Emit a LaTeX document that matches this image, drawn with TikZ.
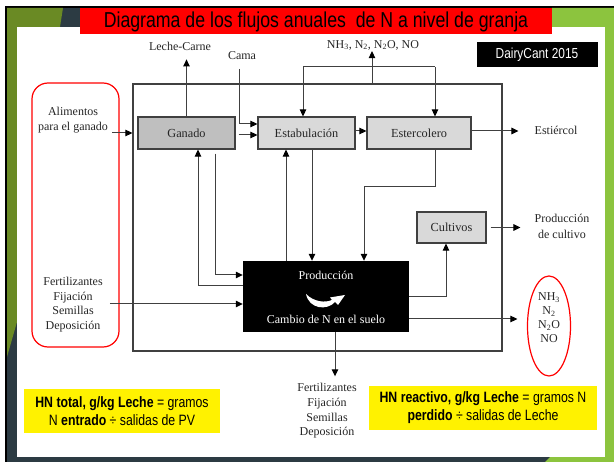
\documentclass[tikz,border=0pt]{standalone}
\usepackage{fontspec}
\setmainfont{Liberation Serif}
\newfontfamily\narrowsans[FakeStretch=0.82]{Liberation Sans}
\usetikzlibrary{arrows.meta,positioning,shapes.geometric,calc}

\definecolor{slate}{HTML}{2C3B43}
\definecolor{olivebg}{HTML}{6A8A24}
\definecolor{limebg}{HTML}{8CC43E}
\definecolor{lineg}{HTML}{404040}

\begin{document}
\begin{tikzpicture}[x=1pt,y=-1pt,
    unitbox/.style={draw=lineg,line width=1.2pt,minimum height=32pt,inner sep=0pt,
        text=black!85,font=\fontsize{12.3}{14}\selectfont},
    conn/.style={draw=lineg,line width=1pt},
    flow/.style={conn,-{Triangle[length=7pt,width=6.5pt,color=black]}},
    lbl/.style={align=center,inner sep=1pt,text=black!85,font=\fontsize{12}{14.7}\selectfont},
    note/.style={fill=yellow,inner sep=0pt,align=center,font=\narrowsans\fontsize{15}{18}\selectfont}]
    \useasboundingbox (0,0) rectangle (614,462);

    % Slide background
    \fill[white] (0,0) rectangle (614,462);
    \fill[black] (5,6) rectangle (614,462);
    \fill[slate] (7,8) rectangle (614,462);
    \fill[olivebg] (7,8) -- (63,8) -- (60,27) -- (17,27) -- (17,322) -- (7,357) -- cycle;
    \fill[limebg] (552,8) -- (614,8) -- (614,462) -- (545,462) -- (550,457)
        -- (605,457) -- (605,27) -- (552,27) -- cycle;
    \fill[white] (17,27) rectangle (605,457);

    % Title and source
    \node[fill=red,minimum width=472pt,minimum height=26pt,inner sep=0pt,
        font=\narrowsans\fontsize{21.6}{21.6}\selectfont] (titulo) at (316,21.5)
        {Diagrama de los flujos anuales~ de N a nivel de granja};
    \node[fill=black,text=white,minimum width=121pt,minimum height=25pt,inner sep=0pt,
        font=\narrowsans\fontsize{14.5}{14.5}\selectfont] (fuente) at (537,54.5) {DairyCant 2015};

    % Farm boundary and inputs
    \draw[conn,line width=1.2pt] (133,84) rectangle (502,351);
    \draw[red,line width=1.2pt,rounded corners=16pt] (32,83) rectangle (119,347);

    % Units of the farm
    \node[unitbox,fill=black!25,minimum width=97pt] (ganado) at (186.5,133) {Ganado};
    \node[unitbox,fill=black!15,minimum width=97pt] (estab) at (306.5,133) {Estabulación};
    \node[unitbox,fill=black!15,minimum width=104pt] (esterc) at (419,133) {Estercolero};
    \node[unitbox,fill=black!15,minimum width=69pt,minimum height=31pt] (cultivos) at (451.5,227.5) {Cultivos};
    \node[fill=black,minimum width=166pt,minimum height=71pt,inner sep=0pt] (prod) at (326,296.5) {};
    \node[lbl,text=white] (prodtxt) at (326,275) {Producción};
    \node[lbl,text=white] (suelotxt) at (326,319) {Cambio de N en el suelo};
    % curved arrow icon
    \fill[white] (306,294) .. controls (309,309) and (327,311) .. (335,302)
        -- (338,305) -- (345,295) -- (330,297.5) -- (332,300)
        .. controls (325,303) and (314,302) .. (306,294) -- cycle;

    % Labels outside the units
    \node[lbl] (lechecarne) at (180,46) {Leche-Carne};
    \node[lbl] (cama) at (242,56) {Cama};
    \node[lbl] (gasesup) at (373,45) {NH\textsubscript{3}, N\textsubscript{2}, N\textsubscript{2}O, NO};
    \node[lbl] (alimentos) at (73,120) {Alimentos\\para el ganado};
    \node[lbl] (fertizq) at (73,304.5) {Fertilizantes\\Fijación\\Semillas\\Deposición};
    \node[lbl] (fertbajo) at (327,411) {Fertilizantes\\Fijación\\Semillas\\Deposición};
    \node[lbl] (estiercol) at (556,130) {Estiércol};
    \node[lbl,font=\fontsize{12}{16.5}\selectfont] (prodcult) at (562,226.5) {Producción\\de cultivo};
    \node[ellipse,draw=red,line width=1.2pt,minimum width=43pt,minimum height=100pt] (gases) at (549,326) {};
    \node[lbl,font=\fontsize{12}{14}\selectfont] (gasestxt) at (549,318)
        {NH\textsubscript{3}\\N\textsubscript{2}\\N\textsubscript{2}O\\NO};

    % Indicators
    \node[note,minimum width=196pt,minimum height=44pt] (hntotal) at (122,411)
        {\textbf{HN total, g/kg Leche} = gramos\\N \textbf{entrado} ÷ salidas de PV};
    \node[note,minimum width=228pt,minimum height=44pt] (hnreact) at (483,408)
        {\textbf{HN reactivo, g/kg Leche} = gramos N\\\textbf{perdido} ÷ salidas de Leche};

    % Helper points
    \coordinate (camatop) at (239,69);
    \coordinate (loopl) at (303,67);
    \coordinate (loopr) at (435,67);
    \coordinate (gasfoot) at (372,83);
    \coordinate (esterturn) at (364,187);
    \coordinate (fertin) at ([yshift=-7.5pt]prod.west);

    % Flows at the top
    \draw[flow,shorten <=3pt,shorten >=5pt] ($(alimentos.east |- ganado.west)$) -- (ganado.west);
    \draw[flow] (ganado.north) -- ++(0,-57);
    \draw[flow] (camatop) |- ([yshift=9pt]estab.west);
    \draw[flow] ([xshift=3pt,yshift=-2pt]ganado.east) -- ([yshift=-2pt]estab.west);
    \draw[flow] ([yshift=2pt]estab.east) -- ([yshift=2pt]esterc.west);
    \draw[conn] (loopl) -- (loopr);
    \draw[flow] (loopl) -- (loopl |- estab.north);
    \draw[flow] (loopr) -- (loopr |- esterc.north);
    \draw[flow] (gasfoot) -- (gasfoot |- gasesup.south);
    \draw[flow,shorten >=15pt] ([yshift=2pt]esterc.east) -- ([yshift=2pt]esterc.east -| estiercol.west);

    % Flows between units and production
    \draw[flow] ([xshift=28.5pt,yshift=-4pt]ganado.south) |- ([yshift=21.5pt]prod.west);
    \draw[flow] ([yshift=10.5pt]prod.west) -| ([xshift=11.5pt]ganado.south);
    \draw[flow] ($(fertin -| fertizq.east)+(6,0)$) -- (fertin);
    \draw[flow] ([xshift=-20.5pt]estab.south |- prod.north) -- ([xshift=-20.5pt]estab.south);
    \draw[flow] ([xshift=5.5pt]estab.south) -- ([xshift=5.5pt]estab.south |- prod.north);
    \draw[flow] ([xshift=16pt]esterc.south) |- (esterturn) -- (esterturn |- prod.north);
    \draw[flow] (prod.east) -| ([xshift=-5.5pt]cultivos.south);
    \draw[flow,shorten <=4pt,shorten >=13pt] (cultivos.east) -- (cultivos.east -| prodcult.west);
    \draw[flow,shorten >=9.5pt] ([yshift=-22.5pt]prod.east) -- ([yshift=-22.5pt]prod.east -| gases.west);
    \draw[flow,shorten >=6pt] ([xshift=9pt]prod.south) -- ([xshift=9pt]prod.south |- fertbajo.north);
\end{tikzpicture}
\end{document}
